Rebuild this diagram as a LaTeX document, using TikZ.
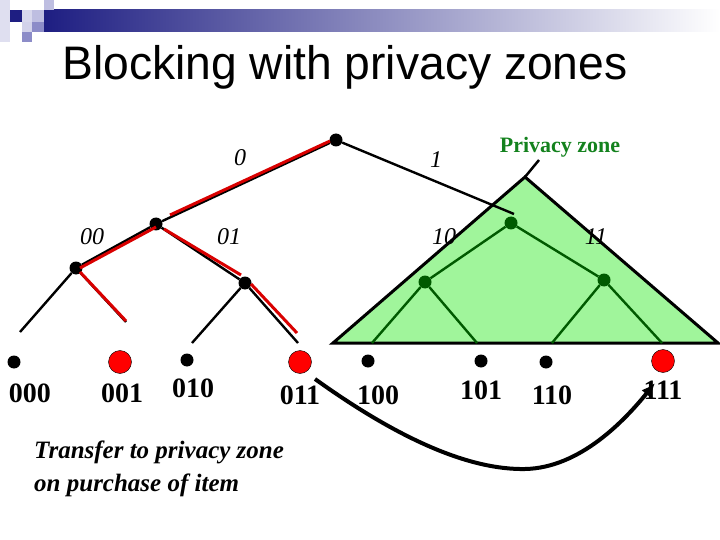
\documentclass[tikz,border=0pt]{standalone}
\usepackage{fontspec}
\setmainfont{Liberation Serif}
\newfontfamily\titlefont{Liberation Sans}
\usetikzlibrary{arrows.meta}
\definecolor{navy}{RGB}{30,30,130}
\definecolor{lav}{RGB}{190,190,225}
\definecolor{lavm}{RGB}{140,140,200}
\definecolor{zonegreen}{RGB}{160,245,155}
\definecolor{dgreen}{RGB}{0,90,0}
\definecolor{tgreen}{RGB}{20,130,30}
\tikzset{
 dot/.style={circle,fill=black,inner sep=0pt,minimum size=13pt},
 gdot/.style={circle,fill=dgreen,inner sep=0pt,minimum size=13pt},
 rdot/.style={circle,fill=red,draw=black,line width=0.4pt,inner sep=0pt,minimum size=23pt},
 leaf/.style={font=\fontsize{28}{30}\selectfont\bfseries},
 elab/.style={font=\fontsize{24}{26}\selectfont\itshape},
 edge/.style={line width=2.4pt},
 redge/.style={line width=3pt,red!85!black},
 gedge/.style={line width=2.4pt,dgreen},
}
\begin{document}
\begin{tikzpicture}[x=1pt,y=-1pt]
\useasboundingbox (0,0) rectangle (720,540);
% header
\shade[left color=navy,right color=white] (44,10) rectangle (720,32);
\fill[lav!50] (0,0) rectangle (10,42);
\fill[navy] (10,10) rectangle (22,22);
\fill[lav!60] (22,10) rectangle (32,22);
\fill[lav] (32,10) rectangle (44,22);
\fill[lav] (44,0) rectangle (54,10);
\fill[lav!70] (22,22) rectangle (32,32);
\fill[lavm] (32,22) rectangle (44,32);
\fill[lavm] (22,32) rectangle (32,42);
\node[font=\titlefont\fontsize{42}{46}\selectfont,xscale=1.1,yscale=1.12] (title) at (345,67) {Blocking with privacy zones};
% privacy zone triangle
\coordinate (apex) at (525,177);
\coordinate (bl) at (333,343);
\coordinate (br) at (718,343);
\coordinate (stem) at (539,160);
\filldraw[fill=zonegreen,draw=black,line width=3pt,line join=miter] (bl) -- (apex) -- (br) -- cycle;
\draw[line width=2.5pt] (apex) -- (stem);
% nodes
\node[dot] (r) at (336,140) {};
\node[dot] (n0) at (156,224) {};
\node[dot] (n00) at (76,268) {};
\node[dot] (n01) at (245,283) {};
\node[gdot] (n1) at (511,223) {};
\node[gdot] (n10) at (425,282) {};
\node[gdot] (n11) at (604,280) {};
\node[dot] (l000) at (14,362) {};
\node[rdot] (l001) at (120,362) {};
\node[dot] (l010) at (187,360) {};
\node[rdot] (l011) at (300,362) {};
\node[dot] (l100) at (368,361) {};
\node[dot] (l101) at (481,361) {};
\node[dot] (l110) at (546,362) {};
\node[rdot] (l111) at (663,361) {};
% free ends
\coordinate (e000) at (20,332);
\coordinate (e001) at (126,322);
\coordinate (e010) at (192,343);
\coordinate (e011) at (298,343);
\coordinate (e100) at (372,343);
\coordinate (e101) at (477,343);
\coordinate (e110) at (552,343);
\coordinate (e111) at (662,343);
\coordinate (e1) at (514,214);
% black edges
\draw[edge] (r) -- (e1);
\draw[edge] (r) -- (n0);
\draw[edge] (n0) -- (n00);
\draw[edge] (n0) -- (n01);
\draw[edge] (n00) -- (e000);
\draw[edge] (n00) -- (e001);
\draw[edge] (n01) -- (e010);
\draw[edge] (n01) -- (e011);
% red edges (overlaying)
\draw[redge] (330,141) -- (170,215);
\draw[redge] (156,227) -- (80,268);
\draw[redge] (164,229) -- (241,275);
\draw[redge] (80,272) -- (126,321);
\draw[redge] (251,284) -- (297,333);
% green edges
\draw[gedge] (n1) -- (n10);
\draw[gedge] (n1) -- (n11);
\draw[gedge] (n10) -- (e100);
\draw[gedge] (n10) -- (e101);
\draw[gedge] (n11) -- (e110);
\draw[gedge] (n11) -- (e111);
% edge labels
\node[elab] (t0) at (240,158) {0};
\node[elab] (t1) at (436,160) {1};
\node[elab] (t00) at (92,237) {00};
\node[elab] (t01) at (229,237) {01};
\node[elab] (t10) at (444,237) {10};
\node[elab] (t11) at (596,237) {11};
\node[font=\fontsize{22}{24}\selectfont\bfseries,text=tgreen] (pz) at (560,147) {Privacy zone};
% leaf labels
\node[leaf] (s000) at (30,393) {000};
\node[leaf] (s001) at (122,393) {001};
\node[leaf] (s010) at (193,388) {010};
\node[leaf] (s011) at (300,395) {011};
\node[leaf] (s100) at (378,395) {100};
\node[leaf] (s101) at (481,390) {101};
\node[leaf] (s110) at (552,395) {110};
\node[leaf] (s111) at (663,390) {111};
% transfer text
\node[font=\fontsize{25}{33}\selectfont\bfseries\itshape,align=left,anchor=north west,inner sep=0pt] (tr) at (34,441) {Transfer to privacy zone\\on purchase of item};
% curved arrow
\coordinate (cs) at (315,379);
\coordinate (ce) at (655,383);
\draw[line width=4pt,-{Latex[length=14pt,width=12pt]}] (cs) .. controls (400,440) and (470,470) .. (525,469) .. controls (580,468) and (625,420) .. (ce);
\end{tikzpicture}
\end{document}
